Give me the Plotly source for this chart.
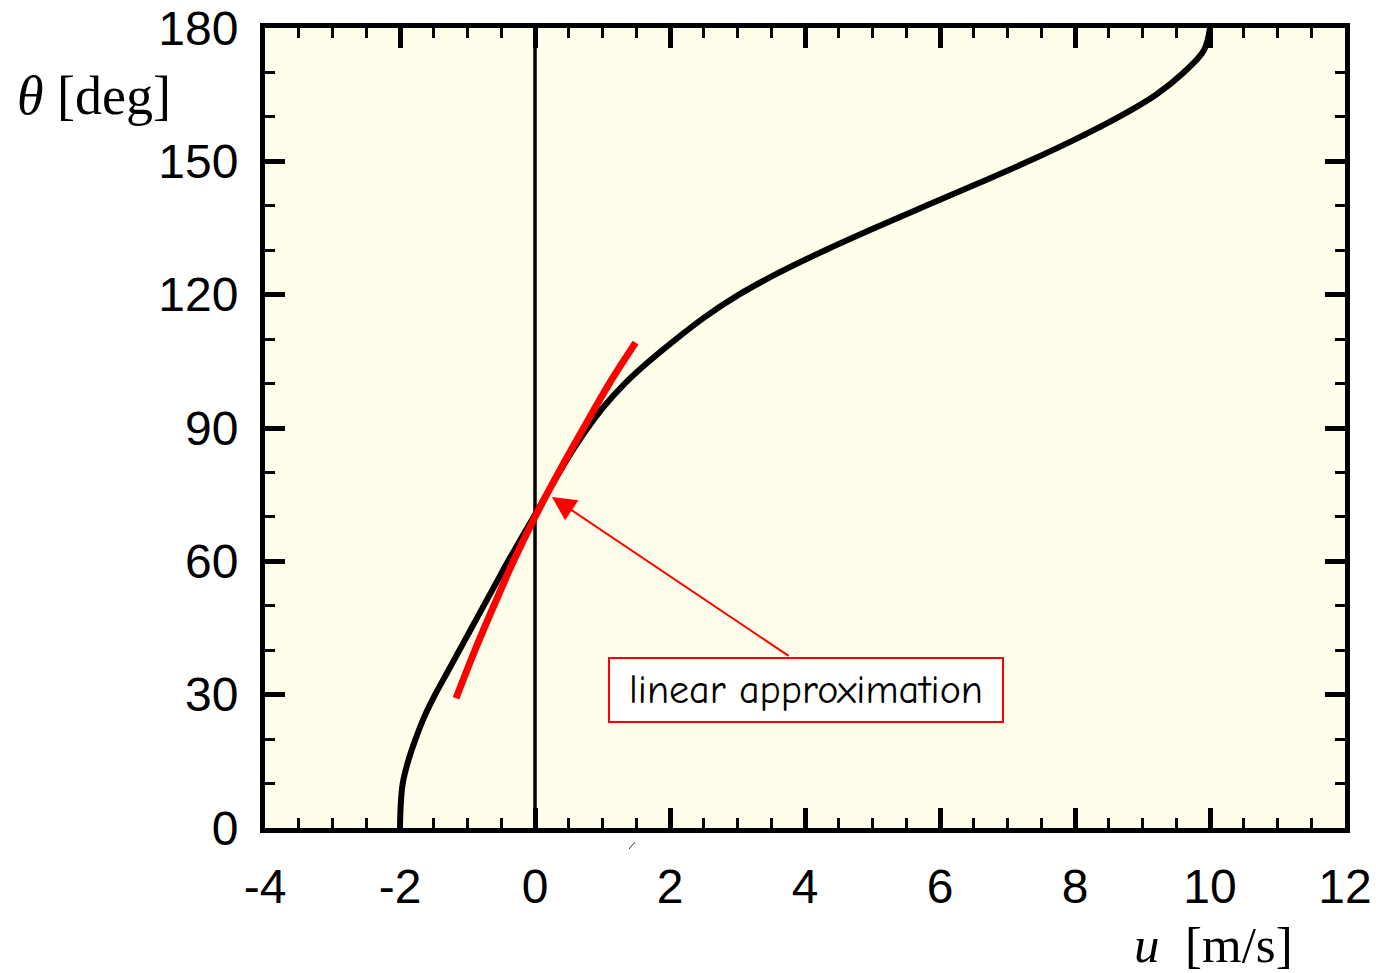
import plotly.graph_objects as go

# Velocity profile u(theta)
theta_deg = [0, 5, 10, 15, 20, 25, 30, 35, 40, 45, 50, 55, 60, 65, 70, 75,
             80, 85, 90, 95, 100, 105, 110, 115, 120, 125, 130, 135, 140,
             145, 150, 155, 160, 165, 170, 175, 180]
u_ms = [-2.00, -1.99, -1.96, -1.88, -1.77, -1.64, -1.48, -1.30, -1.12, -0.94,
        -0.76, -0.58, -0.40, -0.21, -0.02, 0.17, 0.36, 0.56, 0.78, 1.03,
        1.33, 1.69, 2.09, 2.52, 3.02, 3.62, 4.30, 5.03, 5.79, 6.56, 7.31,
        8.01, 8.65, 9.20, 9.61, 9.91, 10.00]

# Linear approximation around u = 0
approx_theta = [29.2, 40, 50, 60, 70, 80, 90, 100, 109.2]
approx_u = [-1.17, -0.89, -0.61, -0.32, 0.00, 0.35, 0.72, 1.10, 1.49]

x_ticks = [-4, -2, 0, 2, 4, 6, 8, 10, 12]
y_ticks = [0, 30, 60, 90, 120, 150, 180]

label_text = "linear approximation"

fig = go.Figure()

fig.add_trace(go.Scatter(
    x=u_ms, y=theta_deg, mode="lines",
    line=dict(color="black", width=6, shape="spline", smoothing=1.0),
    showlegend=False, hoverinfo="skip",
))
fig.add_trace(go.Scatter(
    x=approx_u, y=approx_theta, mode="lines",
    line=dict(color="#ff0000", width=7, shape="spline", smoothing=1.0),
    showlegend=False, hoverinfo="skip",
))

# vertical reference line at u = 0
fig.add_shape(type="line", xref="x", yref="paper", x0=0, x1=0, y0=0, y1=1,
              line=dict(color="black", width=3.5), layer="below")

tick_font = dict(family="Liberation Sans, Arial, sans-serif", size=48, color="black")

fig.update_xaxes(
    range=[-4, 12], tickvals=x_ticks, ticktext=[str(v) for v in x_ticks],
    ticks="inside", ticklen=20, tickwidth=5, tickcolor="black",
    minor=dict(dtick=0.5, ticks="inside", ticklen=10, tickwidth=3, tickcolor="black"),
    showline=True, linewidth=5, linecolor="black", mirror="ticks",
    showgrid=False, zeroline=False, tickfont=tick_font, ticklabelstandoff=12,
    automargin=False,
)
fig.update_yaxes(
    range=[0, 180], tickvals=y_ticks, ticktext=[str(v) for v in y_ticks],
    ticks="inside", ticklen=20, tickwidth=5, tickcolor="black",
    minor=dict(dtick=10, ticks="inside", ticklen=10, tickwidth=3, tickcolor="black"),
    showline=True, linewidth=5, linecolor="black", mirror="ticks",
    showgrid=False, zeroline=False, tickfont=tick_font, ticklabelstandoff=12,
    automargin=False,
)

serif = "Liberation Serif, Times New Roman, serif"

# axis titles
fig.add_annotation(xref="paper", yref="paper", x=-0.2315, y=0.915,
                   xanchor="left", yanchor="middle", showarrow=False,
                   text="<i>θ</i> [deg]", font=dict(family=serif, size=54, color="black"))
fig.add_annotation(xref="paper", yref="paper", x=0.8030, y=-0.146,
                   xanchor="left", yanchor="middle", showarrow=False,
                   text="<i>u</i>  [m/s]", font=dict(family=serif, size=51, color="black"))

# arrow pointing at the tangent point
fig.add_annotation(x=0.25, y=74.5, ax=3.78, ay=38.5, xref="x", yref="y",
                   axref="x", ayref="y", text="", showarrow=True,
                   arrowhead=2, arrowsize=2.4, arrowwidth=2, arrowcolor="#ff0000")

# label box
fig.add_annotation(x=4.01, y=31.05, xref="x", yref="y", showarrow=False,
                   text=label_text, width=388, height=58,
                   font=dict(family="Comic Sans MS, Comic Neue, Lato, sans-serif",
                             size=40, color="black"),
                   bgcolor="white", bordercolor="#ff0000", borderwidth=2, borderpad=2)

# small stroke below the axis
fig.add_shape(type="line", xref="paper", yref="paper",
              x0=0.337, y0=-0.02625, x1=0.3426, y1=-0.0175,
              line=dict(color="#333333", width=1))

fig.update_layout(
    width=1376, height=973,
    margin=dict(l=265, r=31, t=28, b=145),
    paper_bgcolor="white", plot_bgcolor="#fefeea",
)

fig.write_html("out.html")
